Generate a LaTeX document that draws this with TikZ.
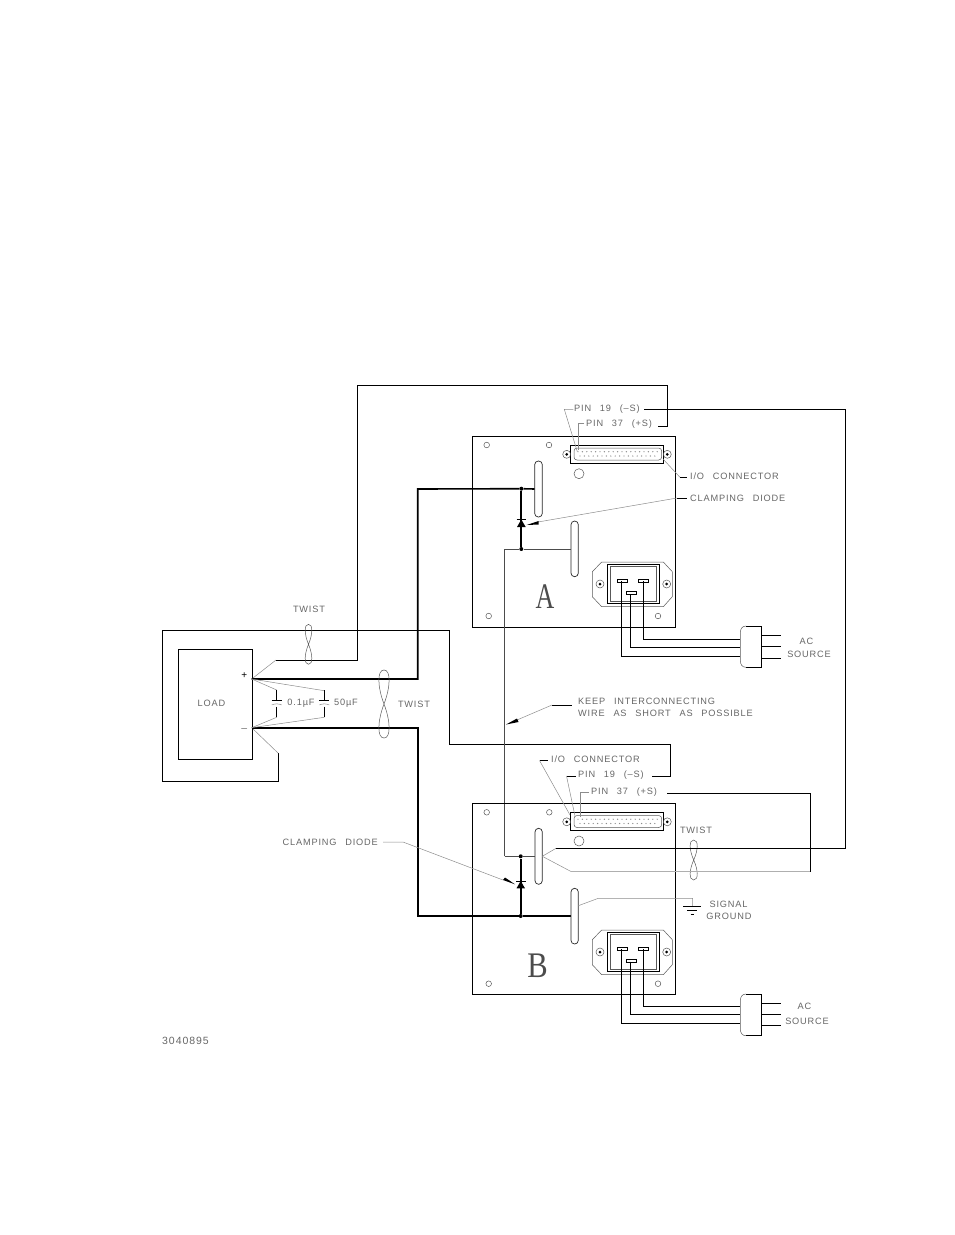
\documentclass[tikz,border=0pt]{standalone}
\usepackage{fontspec}
\setmainfont[LetterSpace=9,WordSpace=2.6]{Liberation Sans}
\newfontfamily\letterfont{Liberation Serif}
\usetikzlibrary{positioning}
\definecolor{leadgray}{gray}{0.55}
\definecolor{textgray}{gray}{0.4}
\tikzset{
	wire/.style={line width=0.9pt},
	heavywire/.style={line width=2pt},
	leader/.style={line width=0.5pt,leadgray},
	outline/.style={line width=0.5pt,black!65},
	label/.style={inner sep=0pt,textgray,font=\fontsize{9.2}{9.2}\selectfont},
	bigletter/.style={inner sep=0pt,black!70,font=\letterfont\fontsize{36}{36}\selectfont},
	junction/.style={circle,fill=black,inner sep=0pt,minimum size=4pt},
}
\newcommand{\twistloop}[4]{
	\begin{scope}[shift={(#1,#2)},xscale=#3,yscale=#4]
		\draw[outline] (0,0) .. controls (1,-0.5) and (1.1,-1) .. (0,-1) .. controls (-1.1,-1) and (-1,-0.5) .. (0,0)
			.. controls (1,0.5) and (1.1,1) .. (0,1) .. controls (-1.1,1) and (-1,0.5) .. (0,0);
	\end{scope}
}
\newcommand{\slotbar}[4]{
	\draw[outline,black!85,line width=0.7pt,rounded corners=3.6pt] (#1,#2) rectangle (#3,#4);
}
\newcommand{\screw}[2]{
	\draw[outline] (#1,#2) circle (4);
	\fill (#1,#2) circle (1.5);
}
% panel outlet, given as an offset from panel A
\newcommand{\outlet}[1]{
	\begin{scope}[yshift=#1]
		\draw[outline] (601.7,562) -- (663.3,562) -- (672.3,571.7) -- (672.3,596.7) -- (663.3,606.7) -- (601.7,606.7) -- (592.3,596.7) -- (592.3,571.7) -- cycle;
		\draw[wire,line width=0.7pt] (607.3,564) rectangle (659,603.3);
		\draw[outline] (610,566) rectangle (656.7,601.3);
		\screw{600}{584}
		\screw{666.7}{584}
		\draw[wire,line width=0.7pt] (617.7,579) rectangle (627.7,582);
		\draw[wire,line width=0.7pt] (638.3,579) rectangle (648.3,582);
		\draw[wire,line width=0.7pt] (626,591.7) rectangle (636.7,594.3);
	\end{scope}
}
\newcommand{\subdconn}[1]{
	\begin{scope}[yshift=#1]
		\draw[wire,line width=0.7pt] (570.3,445.3) rectangle (663.3,463.3);
		\draw[outline,rounded corners=3pt] (574,448) -- (661.7,448) -- (661.7,460) -- (574,460) -- cycle;
		\foreach \px in {0,...,18}
			\fill[leadgray] ({578+\px*4.4},451.7) circle (0.7);
		\foreach \px in {0,...,17}
			\fill[leadgray] ({580+\px*4.4},456) circle (0.7);
		\screw{566.7}{454.3}
		\screw{667.3}{454.3}
	\end{scope}
}
\newcommand{\acplug}[4]{
	\draw[wire] (746,#1) -- (761.7,#1) -- (761.7,#2) -- (746,#2);
	\draw[outline] (746,#1) .. controls (742,#1) and (740.3,{#1+3}) .. (740.3,{#1+7}) -- (740.3,{#2-7}) .. controls (740.3,{#2-3}) and (742,#2) .. (746,#2);
	\draw[wire] (761.7,#3) -- (781,#3);
	\draw[wire] (761.7,{#3+11}) -- (781,{#3+11});
	\draw[wire] (761.7,#4) -- (781,#4);
}

\begin{document}
\begin{tikzpicture}[x=1pt,y=-1pt,auto=center]
	\useasboundingbox (0,0) rectangle (954,1235);

	% terminals and junctions
	\coordinate (loadplus) at (251.7,679);
	\coordinate (loadminus) at (251.7,727.7);
	\node[junction] (topA) at (521.3,488.7) {};
	\node[junction] (botA) at (521.3,549) {};
	\node[junction] (topB) at (520.7,856.3) {};
	\node[junction] (botB) at (520.7,916) {};

	% load and outer sense loop
	\node[draw,wire,minimum width=74pt,minimum height=110pt,inner sep=0pt] (load) at (215.3,704.3) {};
	\node[label] (loadtxt) at (211.5,703) {LOAD};
	\node[inner sep=0pt,font=\fontsize{10}{10}\selectfont] (plussign) at (244.3,676) {+};
	\node[inner sep=0pt,font=\fontsize{10}{10}\selectfont] (minussign) at (244.3,729) {$-$};
	\draw[wire] (278.3,753.3) -- (278.3,781) -- (162.3,781) -- (162.3,630.3) -- (449.3,630.3) -- (449.3,744) -- (670.7,744) -- (670.7,776.7) -- (651.7,776.7);
	\draw[leader] (loadminus) -- (278.3,753.3);
	\draw[leader] (loadplus) -- (276,660);
	\draw[wire] (276,660) -- (357,660) -- (357,385) -- (667.3,385) -- (667.3,426) -- (658,426);

	% heavy load wires
	\draw[wire,line width=1.6pt] (loadplus) -- (417.7,679) -- (417.7,489) -- (topA) -- (534.7,489);
	\draw[wire,line width=1.6pt] (loadminus) -- (417.7,727.7) -- (417.7,916) -- (botB) -- (571,916);

	% capacitors
	\draw[leader] (loadplus) -- (276.7,690);
	\draw[leader] (loadplus) -- (324.3,690.7);
	\draw[leader] (loadminus) -- (276.7,717.3);
	\draw[leader] (loadminus) -- (324.3,717.3);
	\foreach \cx in {276.7,324.3} {
		\draw[wire,line width=0.7pt] (\cx,690) -- (\cx,700);
		\draw[wire,line width=0.7pt] (\cx,706.5) -- (\cx,717.3);
		\draw[wire,line width=0.7pt] (\cx-5,700) -- (\cx+5,700);
		\draw[leader] (\cx-5,705) .. controls (\cx-2,703.5) and (\cx+2,703.5) .. (\cx+5,705);
	}
	\node[label] (capsmall) at (301,703) {0.1µF};
	\node[label] (capbig) at (346,703) {50µF};

	% twists
	\twistloop{308.5}{644.3}{4.2}{20}
	\twistloop{384}{704}{6.5}{34}
	\twistloop{693.7}{860}{4.5}{20}
	\node[label] (twistone) at (309,609) {TWIST};
	\node[label] (twisttwo) at (414,704) {TWIST};
	\node[label] (twistthree) at (696,830) {TWIST};

	% panel A
	\draw[wire,line width=0.8pt] (472.3,436.3) rectangle (675.3,627);
	\foreach \hx/\hy in {486.7/445,549/445,488.7/616,658/616}
		\draw[outline] (\hx,\hy) circle (2.8);
	\draw[outline] (579,473.7) circle (5);
	\slotbar{534.7}{461}{542.3}{517}
	\slotbar{571}{521}{578.3}{576.7}
	\subdconn{0}
	\outlet{0}
	\node[bigletter] (panelA) at (545,596.5) {\scalebox{0.72}[1]{A}};
	\draw[heavywire] (topA) -- (botA);
	\fill (521.3,519.5) -- (517,527) -- (525.7,527) -- cycle;
	\draw[wire] (516.5,519.5) -- (526,519.5);
	\draw[wire,black!70] (504.7,856.3) -- (504.7,549) -- (botA) -- (571,549);

	% panel B
	\draw[wire,line width=0.8pt] (472.3,803.3) rectangle (675.3,994.3);
	\foreach \hx/\hy in {486.7/812.3,549.3/812.3,488.7/983.7,658/983.7}
		\draw[outline] (\hx,\hy) circle (2.8);
	\draw[outline] (579,841) circle (5);
	\slotbar{535}{828.3}{542.3}{884.3}
	\slotbar{571}{888.3}{578.3}{944}
	\subdconn{-367.5}
	\outlet{-368}
	\node[bigletter] (panelB) at (537.5,966) {\scalebox{0.85}[1]{B}};
	\draw[heavywire] (topB) -- (botB);
	\fill (520.7,881) -- (516.5,888.3) -- (525,888.3) -- cycle;
	\draw[wire] (516,881) -- (525.5,881);
	\draw[wire,black!70] (504.7,856.3) -- (topB) -- (535,856.3);

	% sense wires of panel B
	\draw[leader] (542.3,856.3) -- (556,848.3);
	\draw[wire] (556,848.3) -- (845,848.3) -- (845,409.3) -- (644,409.3);
	\draw[leader] (542.3,856.3) -- (571,871.5);
	\draw[leadgray!70,line width=0.7pt] (571,871.5) -- (810.7,871.5);
	\draw[wire] (810.7,871.5) -- (810.7,793) -- (666.7,793);

	% signal ground
	\draw[leader] (578.3,905.7) -- (598.3,898.3) -- (692.7,898.3) -- (692.7,906.7);
	\draw[wire,line width=0.7pt] (683.3,906.7) -- (701,906.7);
	\draw[wire,line width=0.7pt] (687.3,910.7) -- (696.7,910.7);
	\draw[wire,line width=0.7pt] (690.5,914.3) -- (694,914.3);
	\node[label] (signaltxt) at (728.5,904.3) {SIGNAL};
	\node[label] (groundtxt) at (729,916) {GROUND};

	% ac wiring
	\draw[wire] (621.7,581) -- (621.7,656.7) -- (740.3,656.7);
	\draw[wire] (630.3,594) -- (630.3,647.7) -- (740.3,647.7);
	\draw[wire] (643.7,581) -- (643.7,639.3) -- (740.3,639.3);
	\acplug{626}{667.3}{635.3}{658}
	\node[label] (acA) at (806.5,641.7) {AC};
	\node[label] (sourceA) at (809,654) {SOURCE};
	\draw[wire] (621.7,949) -- (621.7,1023.3) -- (740.3,1023.3);
	\draw[wire] (630.3,961.7) -- (630.3,1014.3) -- (740.3,1014.3);
	\draw[wire] (643.7,949) -- (643.7,1006) -- (740.3,1006);
	\acplug{994}{1035.7}{1003.3}{1025}
	\node[label] (acB) at (804.5,1006) {AC};
	\node[label] (sourceB) at (807,1021) {SOURCE};

	% panel A callouts
	\node[label,anchor=west] (pinnineA) at (574,409) {PIN 19 (–S)};
	\node[label,anchor=west] (pinsevenA) at (586,424) {PIN 37 (+S)};
	\node[label,anchor=west] (ioA) at (690,476.5) {I/O CONNECTOR};
	\node[label,anchor=west] (clampA) at (690,498) {CLAMPING DIODE};
	\draw[leader] (573.3,409.3) -- (564.3,409.3) -- (577.3,451.7);
	\draw[leader] (584.3,423.3) -- (578.3,423.3) -- (578.3,450);
	\draw[leader] (663.3,459.3) -- (680,477.3);
	\draw[wire,line width=0.7pt] (680,477.3) -- (687,477.3);
	\draw[wire,line width=0.7pt] (677,498) -- (687,498);
	\draw[leader] (677,498) -- (538,522);
	\fill (526.7,525) -- (538.5,521) -- (538.5,524.5) -- cycle;

	% panel B callouts
	\node[label,anchor=west] (ioB) at (551,759.5) {I/O CONNECTOR};
	\node[label,anchor=west] (pinnineB) at (578,775) {PIN 19 (–S)};
	\node[label,anchor=west] (pinsevenB) at (591,792.5) {PIN 37 (+S)};
	\node[label,anchor=east] (clampB) at (378,842) {CLAMPING DIODE};
	\draw[wire,line width=0.7pt] (539.5,760.5) -- (548,760.5);
	\draw[leader] (539.5,760.5) -- (570,815);
	\draw[wire,line width=0.7pt] (566.5,776) -- (576,776);
	\draw[leader] (566.5,776) -- (575,816);
	\draw[leader] (589,792.5) -- (580,792.5) -- (580,817);
	\draw[leader] (383,842) -- (403,842) -- (503,880);
	\fill (515,884.3) -- (503,880) -- (505,877.5) -- cycle;

	% interconnecting wire note
	\node[label,anchor=west] (keepline) at (578,701) {KEEP INTERCONNECTING};
	\node[label,anchor=west] (wireline) at (578,713) {WIRE AS SHORT AS POSSIBLE};
	\draw[wire,line width=0.7pt] (552,705) -- (572,705);
	\draw[leader] (552,705) -- (517,720);
	\fill (506,724.5) -- (517,718.5) -- (518.5,722) -- cycle;

	\node[label,anchor=west,font=\fontsize{10.5}{10.5}\selectfont] (partno) at (162,1041) {3040895};
\end{tikzpicture}
\end{document}
